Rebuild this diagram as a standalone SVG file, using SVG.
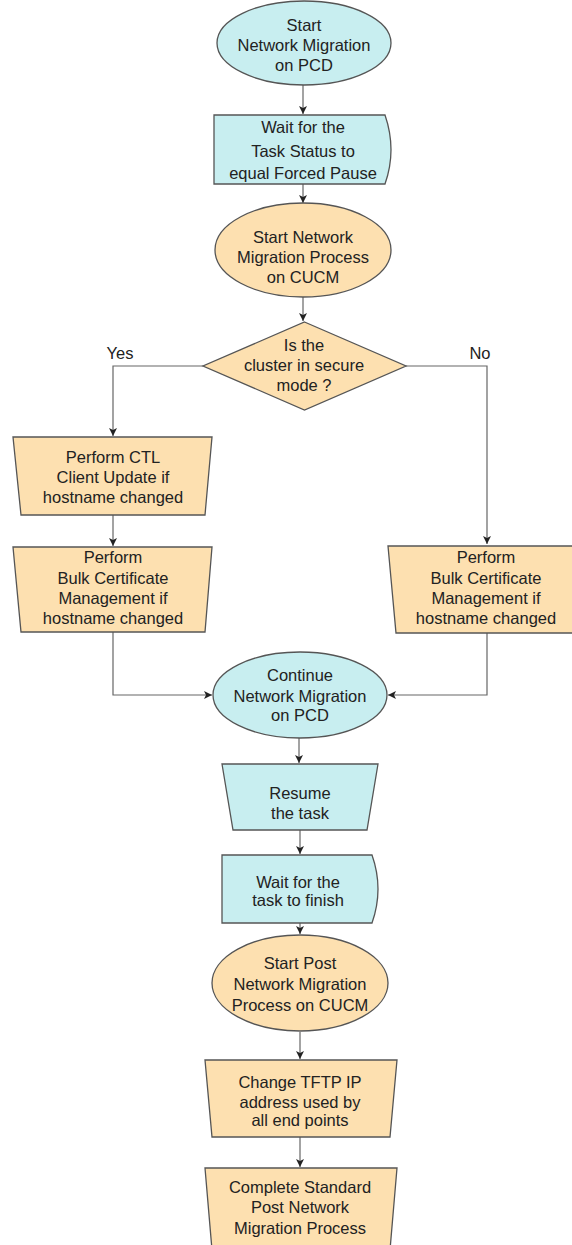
<svg xmlns="http://www.w3.org/2000/svg" width="572" height="1245" viewBox="0 0 572 1245">
<style>
.cy{fill:#c8eef0;stroke:#555;stroke-width:1.3}
.or{fill:#fde0b0;stroke:#555;stroke-width:1.3}
.t{font-family:"Liberation Sans",Arial,sans-serif;font-size:16.5px;fill:#222;text-anchor:middle}
.c{fill:none;stroke:#666;stroke-width:1.2}
</style>
<defs>
<marker id="ah" viewBox="0 0 10 10" refX="10" refY="5" markerWidth="8" markerHeight="8" markerUnits="userSpaceOnUse" orient="auto">
<path d="M0,0 L10,5 L0,10 L2.5,5 z" fill="#222"/>
</marker>
</defs>
<rect width="572" height="1245" fill="#fff"/>
<g id="connectors">
<path class="c" d="M303,85 V114" marker-end="url(#ah)"/>
<path class="c" d="M303,184 V203" marker-end="url(#ah)"/>
<path class="c" d="M303,297 V321" marker-end="url(#ah)"/>
<path class="c" d="M203,366 H113 V436" marker-end="url(#ah)"/>
<path class="c" d="M406,366 H487 V544" marker-end="url(#ah)"/>
<path class="c" d="M113,515 V546" marker-end="url(#ah)"/>
<path class="c" d="M113,632 V695 H212" marker-end="url(#ah)"/>
<path class="c" d="M487,633 V695 H388" marker-end="url(#ah)"/>
<path class="c" d="M299,738 V763" marker-end="url(#ah)"/>
<path class="c" d="M300,830 V854" marker-end="url(#ah)"/>
<path class="c" d="M300,923 V934" marker-end="url(#ah)"/>
<path class="c" d="M300,1032 V1059" marker-end="url(#ah)"/>
<path class="c" d="M300,1137 V1167" marker-end="url(#ah)"/>
<text class="t" x="120" y="359">Yes</text>
<text class="t" x="480" y="359">No</text>
</g>
<g id="start-pcd">
<ellipse class="cy" cx="304" cy="43" rx="87" ry="42"/>
<text class="t" x="304" y="31">Start</text>
<text class="t" x="304" y="51">Network Migration</text>
<text class="t" x="304" y="71">on PCD</text>
</g>
<g id="wait-forced-pause">
<path class="cy" d="M214,115 H385 Q397,150 385,184 H214 Z"/>
<text class="t" x="303" y="133">Wait for the</text>
<text class="t" x="303" y="157">Task Status to</text>
<text class="t" x="303" y="179">equal Forced Pause</text>
</g>
<g id="start-cucm">
<ellipse class="or" cx="303" cy="250" rx="88" ry="47"/>
<text class="t" x="303" y="243">Start Network</text>
<text class="t" x="303" y="263">Migration Process</text>
<text class="t" x="303" y="283">on CUCM</text>
</g>
<g id="secure-mode">
<path class="or" d="M304.5,322 L406,366 L304.5,410 L203,366 Z"/>
<text class="t" x="304" y="351">Is the</text>
<text class="t" x="304" y="371">cluster in secure</text>
<text class="t" x="304" y="391">mode ?</text>
</g>
<g id="ctl-update">
<path class="or" d="M13,437 H212 L205,515 H21 Z"/>
<text class="t" x="113" y="463">Perform CTL</text>
<text class="t" x="113" y="483">Client Update if</text>
<text class="t" x="113" y="503">hostname changed</text>
</g>
<g id="bulk-cert-yes">
<path class="or" d="M13,547 H212 L205,632 H21 Z"/>
<text class="t" x="113" y="563">Perform</text>
<text class="t" x="113" y="584">Bulk Certificate</text>
<text class="t" x="113" y="604">Management if</text>
<text class="t" x="113" y="624">hostname changed</text>
</g>
<g id="bulk-cert-no">
<path class="or" d="M388,546 H587 L579,633 H396 Z"/>
<text class="t" x="486" y="563">Perform</text>
<text class="t" x="486" y="584">Bulk Certificate</text>
<text class="t" x="486" y="604">Management if</text>
<text class="t" x="486" y="624">hostname changed</text>
</g>
<g id="continue-pcd">
<ellipse class="cy" cx="300" cy="695" rx="87" ry="43"/>
<text class="t" x="300" y="681">Continue</text>
<text class="t" x="300" y="702">Network Migration</text>
<text class="t" x="300" y="721">on PCD</text>
</g>
<g id="resume-task">
<path class="cy" d="M222,764 H378 L367,830 H233 Z"/>
<text class="t" x="300" y="799">Resume</text>
<text class="t" x="300" y="819">the task</text>
</g>
<g id="wait-finish">
<path class="cy" d="M222,855 H372 Q384,889 372,923 H222 Z"/>
<text class="t" x="298" y="888">Wait for the</text>
<text class="t" x="298" y="906">task to finish</text>
</g>
<g id="start-post">
<ellipse class="or" cx="300" cy="983" rx="88" ry="48"/>
<text class="t" x="300" y="969">Start Post</text>
<text class="t" x="300" y="990">Network Migration</text>
<text class="t" x="300" y="1011">Process on CUCM</text>
</g>
<g id="change-tftp">
<path class="or" d="M205,1060 H397 L390,1137 H212 Z"/>
<text class="t" x="300" y="1088">Change TFTP IP</text>
<text class="t" x="300" y="1108">address used by</text>
<text class="t" x="300" y="1126">all end points</text>
</g>
<g id="complete-post">
<path class="or" d="M205,1168 H397 L390,1250 H212 Z"/>
<text class="t" x="300" y="1193">Complete Standard</text>
<text class="t" x="300" y="1213">Post Network</text>
<text class="t" x="300" y="1234">Migration Process</text>
</g>
</svg>
